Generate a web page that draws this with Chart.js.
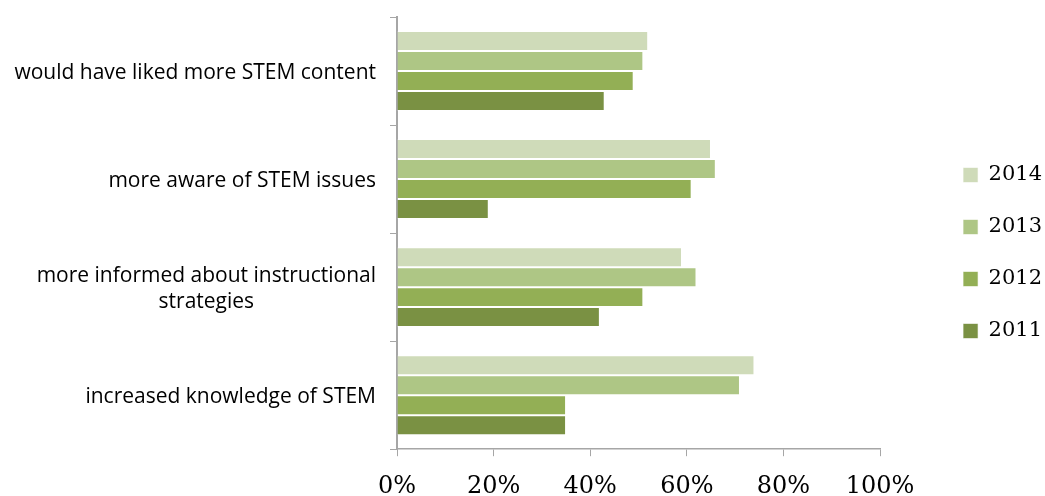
<!DOCTYPE html>
<html>
<head>
<meta charset="utf-8">
<script src="https://cdn.jsdelivr.net/npm/chart.js@4.4.0/dist/chart.umd.min.js"></script>
<style>
  html, body { margin: 0; padding: 0; background: #fff; }
  #wrap { width: 1045px; height: 496px; position: relative; }
</style>
</head>
<body>
<div id="wrap"><canvas id="barChart"></canvas></div>
<script>
const categories = [
    ["would have liked more STEM content"],
    ["more aware of STEM issues"],
    ["more informed about instructional", "strategies"],
    ["increased knowledge of STEM"]
];
const years = ["2014", "2013", "2012", "2011"];
const values2014 = [52, 65, 59, 74];
const values2013 = [51, 66, 62, 71];
const values2012 = [49, 61, 51, 35];
const values2011 = [43, 19, 42, 35];
const xTicks = [0, 20, 40, 60, 80, 100];

const colors = ["#cfdbb9", "#aec685", "#93af55", "#7a9143"];
const axisGray = "#a6a6a6";

// category labels: block right aligned next to the axis, each line centred in it
const catLabels = {
    id: "catLabels",
    afterDraw(chart) {
        const ctx = chart.ctx;
        const y = chart.scales.y;
        ctx.save();
        ctx.font = "21px 'Open Sans'";
        ctx.fillStyle = "#000";
        ctx.textBaseline = "middle";
        ctx.textAlign = "center";
        const right = y.right - 21;
        const lh = 26;
        categories.forEach((lines, i) => {
            const cy = y.getPixelForTick(i);
            const w = Math.max(...lines.map(l => ctx.measureText(l).width));
            const top = cy - (lines.length - 1) * lh / 2;
            lines.forEach((l, j) => ctx.fillText(l, right - w / 2, top + j * lh + 2));
        });
        ctx.restore();
    }
};

// legend sits further right than chart.js would put it
const legendPlace = {
    id: "legendPlace",
    beforeLayout(chart) {
        const lg = chart.legend;
        if (lg && !lg._patched) {
            const fit = lg.fit;
            lg.fit = function () { fit.call(this); this.width += 45; };
            lg._patched = true;
        }
    },
    afterLayout(chart) {
        const lg = chart.legend;
        lg.left += 52; lg.right += 52;
        lg.top -= 8; lg.bottom -= 8;
    }
};

ready = (callback) => {
    if (document.readyState != "loading") callback();
    else document.addEventListener("DOMContentLoaded", callback);
}

ready(() => {
    const ctx = document.getElementById("barChart").getContext("2d");
    const series = [values2014, values2013, values2012, values2011];
    new Chart(ctx, {
        type: "bar",
        data: {
            labels: categories,
            datasets: years.map((yr, i) => ({
                label: yr,
                data: series[i],
                backgroundColor: colors[i],
                borderColor: "rgba(255,255,255,0.6)",
                borderWidth: 1
            }))
        },
        options: {
            indexAxis: "y",
            responsive: true,
            maintainAspectRatio: false,
            animation: false,
            layout: { padding: { top: 17, left: 0, right: 0, bottom: -9 } },
            categoryPercentage: 0.74,
            barPercentage: 1,
            plugins: {
                tooltip: { enabled: false },
                legend: {
                    position: "right",
                    labels: {
                        font: { family: "DejaVu Serif", size: 21 },
                        color: "#000",
                        boxWidth: 15,
                        boxHeight: 15,
                        padding: 31
                    }
                }
            },
            scales: {
                x: {
                    min: 0,
                    max: 100,
                    afterBuildTicks: (s) => { s.ticks = xTicks.map(v => ({ value: v })); },
                    afterFit: (s) => { s.height -= 12; },
                    ticks: {
                        callback: (v) => v + "%",
                        font: { family: "DejaVu Serif", size: 24 },
                        color: "#000",
                        padding: 16,
                        maxRotation: 0
                    },
                    grid: { drawOnChartArea: false, drawTicks: true, tickLength: 7, color: axisGray },
                    border: { color: axisGray, width: 1.5 }
                },
                y: {
                    afterFit: (s) => { s.width = 397; },
                    ticks: { display: false },
                    grid: { drawOnChartArea: false, drawTicks: true, tickLength: 7, color: axisGray, offset: true },
                    border: { color: axisGray, width: 2 }
                }
            }
        },
        plugins: [catLabels, legendPlace]
    });
});
</script>
</body>
</html>
